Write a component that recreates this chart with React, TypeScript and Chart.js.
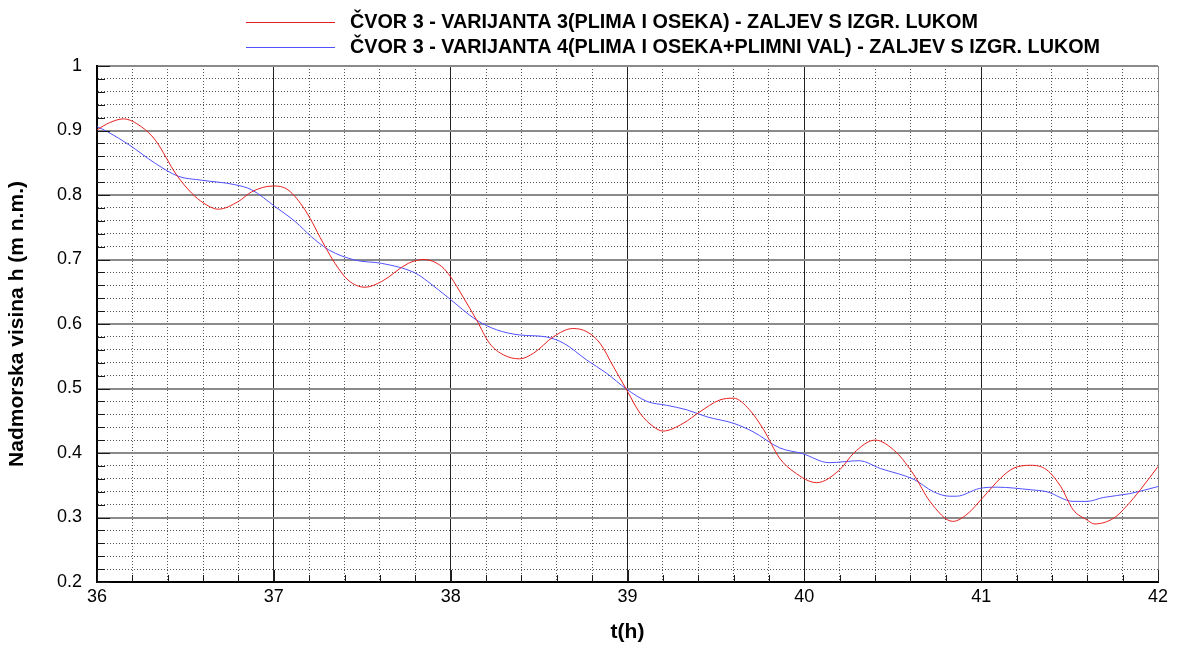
import React, { useEffect, useRef } from "react";
import { Chart, registerables } from "chart.js";

Chart.register(...registerables);

// ---- Data ----
const seriesLabels = [
  "ČVOR 3 - VARIJANTA 3(PLIMA I OSEKA) - ZALJEV S IZGR. LUKOM",
  "ČVOR 3 - VARIJANTA 4(PLIMA I OSEKA+PLIMNI VAL) - ZALJEV S IZGR. LUKOM",
];

const redT = [
  36.0, 36.07, 36.15, 36.25, 36.33, 36.45, 36.535, 36.6, 36.686, 36.8, 36.875, 36.997,
  37.08, 37.176, 37.29, 37.346, 37.42, 37.516, 37.61, 37.76, 37.845, 37.95, 38.0, 38.07,
  38.147, 38.22, 38.3, 38.39, 38.47, 38.58, 38.69, 38.77, 38.845, 38.92, 38.995, 39.07,
  39.146, 39.2, 39.315, 39.41, 39.52, 39.6, 39.69, 39.77, 39.86, 39.94, 40.07, 40.2,
  40.28, 40.4, 40.52, 40.62, 40.71, 40.84, 40.92, 41.01, 41.11, 41.18, 41.28, 41.37,
  41.45, 41.52, 41.6, 41.64, 41.75, 41.82, 41.9, 42.0,
];
const redH = [
  0.901, 0.912, 0.918, 0.906, 0.885, 0.831, 0.803, 0.788, 0.778, 0.79, 0.805, 0.814,
  0.808, 0.777, 0.72, 0.694, 0.668, 0.657, 0.666, 0.694, 0.7, 0.689, 0.673, 0.642,
  0.606, 0.57, 0.552, 0.546, 0.555, 0.58, 0.593, 0.588, 0.57, 0.534, 0.498, 0.462,
  0.441, 0.434, 0.446, 0.464, 0.482, 0.485, 0.467, 0.436, 0.392, 0.371, 0.354, 0.374,
  0.4, 0.42, 0.401, 0.366, 0.325, 0.294, 0.305, 0.331, 0.361, 0.376, 0.381, 0.374,
  0.348, 0.312, 0.296, 0.29, 0.299, 0.317, 0.343, 0.379,
];

const blueT = [
  36.0, 36.06, 36.18, 36.33, 36.46, 36.59, 36.78, 36.875, 37.007, 37.12, 37.214, 37.31,
  37.46, 37.61, 37.8, 37.87, 37.99, 38.147, 38.26, 38.39, 38.54, 38.64, 38.77, 38.88,
  38.995, 39.11, 39.22, 39.335, 39.45, 39.6, 39.71, 39.86, 39.99, 40.14, 40.31, 40.43,
  40.62, 40.73, 40.82, 40.86, 40.99, 41.09, 41.28, 41.37, 41.52, 41.6, 41.69, 41.84, 42.0,
];
const blueH = [
  0.906, 0.898, 0.878, 0.849, 0.829, 0.823, 0.816, 0.808, 0.782, 0.759, 0.735, 0.715,
  0.699, 0.694, 0.679, 0.666, 0.64, 0.606, 0.591, 0.583, 0.58, 0.57, 0.544, 0.524,
  0.499, 0.48, 0.474, 0.467, 0.456, 0.446, 0.433, 0.408, 0.399, 0.385, 0.388, 0.376,
  0.359, 0.34, 0.333, 0.333, 0.345, 0.347, 0.343, 0.34, 0.325, 0.325, 0.331, 0.337, 0.348,
];

const xTickValues = [
  36, 36.2, 36.4, 36.6, 36.8, 37, 37.2, 37.4, 37.6, 37.8, 38, 38.2, 38.4, 38.6, 38.8,
  39, 39.2, 39.4, 39.6, 39.8, 40, 40.2, 40.4, 40.6, 40.8, 41, 41.2, 41.4, 41.6, 41.8, 42,
];
const yTickValues = [
  0.2, 0.22, 0.24, 0.26, 0.28, 0.3, 0.32, 0.34, 0.36, 0.38, 0.4, 0.42, 0.44, 0.46, 0.48,
  0.5, 0.52, 0.54, 0.56, 0.58, 0.6, 0.62, 0.64, 0.66, 0.68, 0.7, 0.72, 0.74, 0.76, 0.78,
  0.8, 0.82, 0.84, 0.86, 0.88, 0.9, 0.92, 0.94, 0.96, 0.98, 1.0,
];

const xTitle = "t(h)";
const yTitle = "Nadmorska visina h (m n.m.)";
const colors = ["rgb(232,30,30)", "rgb(80,80,255)"];

const FONT = "'Liberation Sans', Arial, Helvetica, sans-serif";

const isMajorX = (v: number) => Math.abs(v - Math.round(v)) < 1e-6;
const isMajorY = (v: number) => Math.abs(v * 10 - Math.round(v * 10)) < 1e-6;

const decorPlugin = {
  id: "decor",
  afterDatasetsDraw(chart: any) {
    const { ctx, chartArea, scales } = chart;
    const xs = scales.x;
    const ys = scales.y;
    ctx.save();
    ctx.strokeStyle = "#1a1a1a";
    ctx.lineWidth = 1;
    ctx.setLineDash([]);
    xTickValues.forEach((v) => {
      const px = Math.round(xs.getPixelForValue(v)) + 0.5;
      const len = isMajorX(v) ? 12 : 7;
      ctx.beginPath();
      ctx.moveTo(px, chartArea.bottom);
      ctx.lineTo(px, chartArea.bottom - len);
      ctx.stroke();
    });
    yTickValues.forEach((v) => {
      const py = Math.round(ys.getPixelForValue(v)) + 0.5;
      const len = isMajorY(v) ? 13 : 8;
      ctx.beginPath();
      ctx.moveTo(chartArea.left, py);
      ctx.lineTo(chartArea.left + len, py);
      ctx.stroke();
    });
    ctx.restore();
  },
  afterDraw(chart: any) {
    const { ctx } = chart;
    ctx.save();
    chart.data.datasets.forEach((ds: any, i: number) => {
      const y = 22 + i * 25;
      ctx.strokeStyle = ds.borderColor;
      ctx.lineWidth = 1;
      ctx.beginPath();
      ctx.moveTo(246, y + 0.5);
      ctx.lineTo(335, y + 0.5);
      ctx.stroke();
      ctx.fillStyle = "#000";
      ctx.font = `bold 19.8px ${FONT}`;
      ctx.textBaseline = "middle";
      ctx.textAlign = "left";
      ctx.fillText(ds.label, 350, y + 1);
    });
    ctx.restore();
  },
};

export default function App() {
  const ref = useRef<HTMLCanvasElement | null>(null);

  useEffect(() => {
    if (!ref.current) return;
    const chart = new Chart(ref.current, {
      type: "line",
      data: {
        datasets: [
          {
            label: seriesLabels[0],
            data: redT.map((t, i) => ({ x: t, y: redH[i] })),
            borderColor: colors[0],
            borderWidth: 1,
            pointRadius: 0,
            cubicInterpolationMode: "monotone",
            fill: false,
          },
          {
            label: seriesLabels[1],
            data: blueT.map((t, i) => ({ x: t, y: blueH[i] })),
            borderColor: colors[1],
            borderWidth: 1,
            pointRadius: 0,
            cubicInterpolationMode: "monotone",
            fill: false,
          },
        ],
      },
      options: {
        responsive: false,
        animation: false,
        devicePixelRatio: 1,
        layout: { padding: { left: 0, right: 26, top: 66, bottom: 0 } },
        plugins: {
          legend: { display: false },
          tooltip: { enabled: false },
        },
        scales: {
          x: {
            type: "linear",
            min: 36,
            max: 42,
            afterBuildTicks: (s: any) => {
              s.ticks = xTickValues.map((v) => ({ value: v }));
            },
            afterFit: (s: any) => {
              s.height = 66;
            },
            ticks: {
              autoSkip: false,
              maxRotation: 0,
              padding: 4,
              color: "#000",
              font: { family: FONT, size: 18 },
              callback: (v: any) => (isMajorX(Number(v)) ? String(Math.round(Number(v))) : ""),
            },
            grid: {
              drawTicks: false,
              color: (c: any) => {
                const v = c.tick ? c.tick.value : 0;
                if (Math.abs(v - 42) < 1e-6) return "#8a8a8a";
                return isMajorX(v) ? "#222" : "#555";
              },
              lineWidth: 1,
            },
            border: {
              display: true,
              color: "#000",
              width: 2,
              dash: (c: any) => (c.tick && !isMajorX(c.tick.value) ? [1, 2] : []),
            },
            title: {
              display: true,
              text: xTitle,
              color: "#000",
              font: { family: FONT, size: 21, weight: "bold" },
              padding: { top: 0, bottom: 3.5 },
            },
          },
          y: {
            type: "linear",
            min: 0.2,
            max: 1,
            afterBuildTicks: (s: any) => {
              s.ticks = yTickValues.map((v) => ({ value: v }));
            },
            afterFit: (s: any) => {
              s.width = 97;
            },
            ticks: {
              autoSkip: false,
              padding: 15,
              color: "#000",
              font: { family: FONT, size: 18 },
              callback: (v: any) => (isMajorY(Number(v)) ? String(Math.round(Number(v) * 10) / 10) : ""),
            },
            grid: {
              drawTicks: false,
              color: (c: any) => {
                const v = c.tick ? c.tick.value : 0;
                return isMajorY(v) ? "#8a8a8a" : "#555";
              },
              lineWidth: (c: any) => {
                const v = c.tick ? c.tick.value : 0;
                return isMajorY(v) ? 2 : 1;
              },
            },
            border: {
              display: true,
              color: "#000",
              width: 2,
              dash: (c: any) => (c.tick && !isMajorY(c.tick.value) ? [1, 2] : []),
            },
            title: {
              display: true,
              text: yTitle,
              color: "#000",
              font: { family: FONT, size: 21, weight: "bold" },
              padding: { top: 5, bottom: 0 },
            },
          },
        },
      },
      plugins: [decorPlugin],
    } as any);
    return () => chart.destroy();
  }, []);

  return (
    <div
      style={{
        position: "absolute",
        left: 0,
        top: 0,
        width: 1184,
        height: 648,
        background: "#fff",
      }}
    >
      <canvas ref={ref} width={1184} height={648} style={{ display: "block" }} />
    </div>
  );
}
